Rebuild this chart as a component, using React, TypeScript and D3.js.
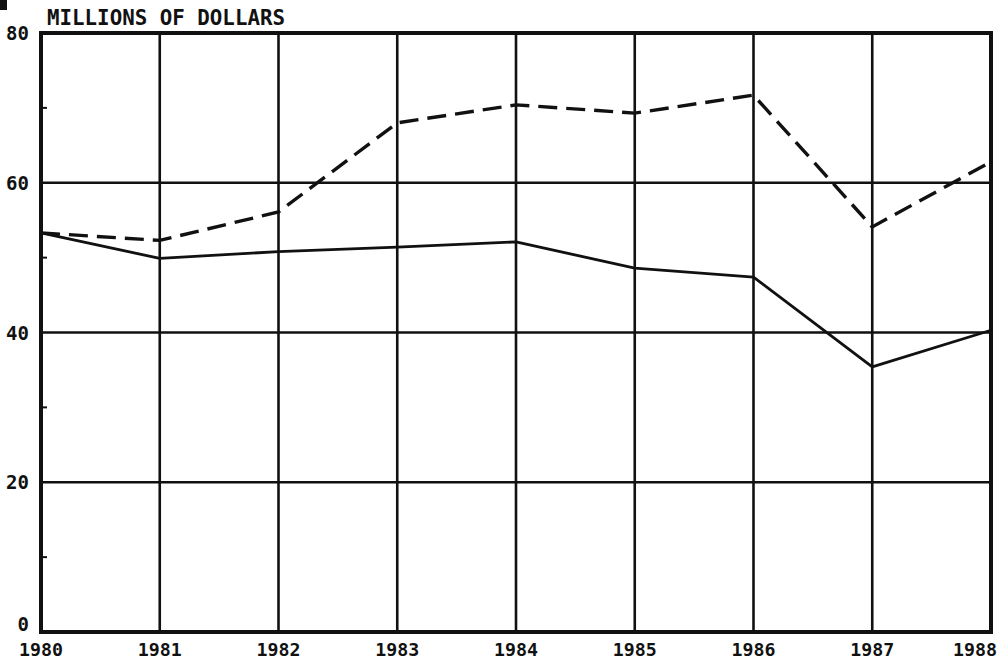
import * as d3 from 'd3'
import { useEffect, useRef } from 'react'

const years = [1980, 1981, 1982, 1983, 1984, 1985, 1986, 1987, 1988]
const solidSeries = [53.3, 49.9, 50.8, 51.4, 52.1, 48.6, 47.4, 35.4, 40.3]
const dashedSeries = [53.3, 52.3, 56.1, 68.0, 70.4, 69.3, 71.7, 54.1, 62.8]
const gridValues = [0, 20, 40, 60, 80]
const minorTicks = [10, 30, 50, 70]
const yLabels = ['0', '20', '40', '60', '80']
const title = 'MILLIONS OF DOLLARS'

const W = 999
const H = 664
const FONT = '"DejaVu Sans Mono", "Liberation Mono", monospace'

export default function App() {
  const svgRef = useRef<SVGSVGElement | null>(null)

  useEffect(() => {
    if (!svgRef.current) return
    const svg = d3.select(svgRef.current)
    svg.selectAll('*').remove()

    const x = d3.scaleLinear().domain([1980, 1988]).range([41, 991])
    const y = d3.scaleLinear().domain([0, 80]).range([632, 33])

    svg.append('rect').attr('width', W).attr('height', H).attr('fill', '#fff')

    // scan mark in the corner
    svg.append('rect').attr('x', 0).attr('y', 0).attr('width', 7).attr('height', 10).attr('fill', '#111')

    // grid
    svg
      .selectAll('line.vgrid')
      .data(years.slice(1, -1))
      .join('line')
      .attr('class', 'vgrid')
      .attr('x1', d => x(d))
      .attr('x2', d => x(d))
      .attr('y1', y(80))
      .attr('y2', y(0))
      .attr('stroke', '#111')
      .attr('stroke-width', 2.6)

    svg
      .selectAll('line.hgrid')
      .data(gridValues.slice(1, -1))
      .join('line')
      .attr('class', 'hgrid')
      .attr('x1', x(1980))
      .attr('x2', x(1988))
      .attr('y1', d => y(d))
      .attr('y2', d => y(d))
      .attr('stroke', '#111')
      .attr('stroke-width', 2.4)

    // frame
    svg
      .append('rect')
      .attr('x', x(1980))
      .attr('y', y(80))
      .attr('width', x(1988) - x(1980))
      .attr('height', y(0) - y(80))
      .attr('fill', 'none')
      .attr('stroke', '#111')
      .attr('stroke-width', 4)

    // minor ticks on the left axis
    svg
      .selectAll('line.minor')
      .data(minorTicks)
      .join('line')
      .attr('class', 'minor')
      .attr('x1', x(1980))
      .attr('x2', x(1980) + 6)
      .attr('y1', d => y(d))
      .attr('y2', d => y(d))
      .attr('stroke', '#111')
      .attr('stroke-width', 2)

    const line = d3
      .line<number>()
      .x((_, i) => x(years[i]))
      .y(d => y(d))

    svg
      .append('path')
      .attr('d', line(solidSeries))
      .attr('fill', 'none')
      .attr('stroke', '#111')
      .attr('stroke-width', 2.8)
      .attr('stroke-linejoin', 'round')

    svg
      .append('path')
      .attr('d', line(dashedSeries))
      .attr('fill', 'none')
      .attr('stroke', '#111')
      .attr('stroke-width', 3.4)
      .attr('stroke-dasharray', '19 9')

    // y labels
    svg
      .selectAll('text.ylab')
      .data(gridValues)
      .join('text')
      .attr('class', 'ylab')
      .attr('x', 29)
      .attr('y', d => (d === 0 ? y(d) - 1 : y(d) + 7))
      .attr('text-anchor', 'end')
      .attr('font-family', FONT)
      .attr('font-weight', 'bold')
      .attr('font-size', 19)
      .attr('fill', '#111')
      .text((_, i) => yLabels[i])

    // x labels
    svg
      .selectAll('text.xlab')
      .data(years)
      .join('text')
      .attr('class', 'xlab')
      .attr('x', d => (d === 1988 ? W - 2 : x(d)))
      .attr('y', 656)
      .attr('text-anchor', d => (d === 1988 ? 'end' : 'middle'))
      .attr('font-family', FONT)
      .attr('font-weight', 'bold')
      .attr('font-size', 18)
      .attr('textLength', 44)
      .attr('lengthAdjust', 'spacingAndGlyphs')
      .attr('fill', '#111')
      .text(d => String(d))

    svg
      .append('text')
      .attr('x', 47)
      .attr('y', 25)
      .attr('font-family', FONT)
      .attr('font-weight', 'bold')
      .attr('font-size', 22)
      .attr('textLength', 238)
      .attr('lengthAdjust', 'spacingAndGlyphs')
      .attr('fill', '#111')
      .text(title)
  }, [])

  return (
    <svg
      ref={svgRef}
      width={W}
      height={H}
      style={{ position: 'absolute', left: 0, top: 0, display: 'block' }}
    />
  )
}
